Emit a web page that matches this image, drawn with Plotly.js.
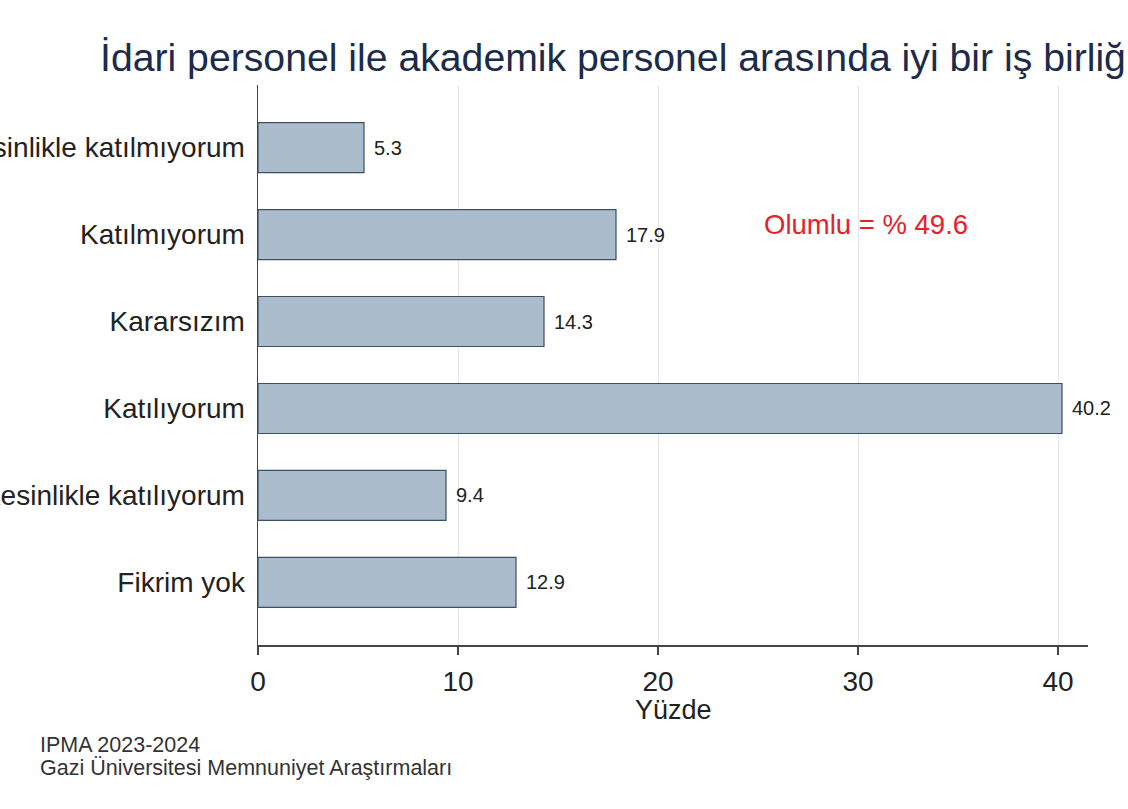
<!DOCTYPE html>
<html>
<head>
<meta charset="utf-8">
<script src="https://cdn.plot.ly/plotly-3.0.1.min.js"></script>
<style>html,body{margin:0;padding:0;background:#fff;}#chart{width:1128px;height:809px;}</style>
</head>
<body>
<div id="chart"></div>
<script>
const categories = ["Kesinlikle katılmıyorum", "Katılmıyorum", "Kararsızım", "Katılıyorum", "Kesinlikle katılıyorum", "Fikrim yok"];
const values = [5.3, 17.9, 14.3, 40.2, 9.4, 12.9];
const xTicks = [0, 10, 20, 30, 40];
const titleText = "İdari personel ile akademik personel arasında iyi bir iş birliği vardır";
const xTitle = "Yüzde";
const noteText = "Olumlu = % 49.6";
const sourceLines = ["IPMA 2023-2024", "Gazi Üniversitesi Memnuniyet Araştırmaları"];

const FONT = "Liberation Sans, Arial, sans-serif";

const trace = {
  type: "bar",
  orientation: "h",
  y: categories,
  x: values,
  width: 0.575,
  marker: {color: "#abbccd", line: {color: "#3d4f63", width: 1.2}},
  hoverinfo: "skip"
};

const valueAnnotations = values.map((v, i) => ({
  x: v, y: categories[i], xref: "x", yref: "y",
  text: v.toFixed(1), showarrow: false, xanchor: "left", xshift: 8,
  font: {family: FONT, size: 20, color: "#222"}
}));

const layout = {
  width: 1128, height: 809,
  paper_bgcolor: "#fff", plot_bgcolor: "#fff",
  margin: {l: 258, r: 40, t: 85, b: 164},
  showlegend: false,
  title: {
    text: titleText,
    font: {family: FONT, size: 39.2, color: "#1c2b4a"},
    xref: "container", yref: "container",
    x: 100 / 1128, xanchor: "left",
    y: 1 - 57 / 809, yanchor: "middle"
  },
  xaxis: {
    range: [0, 41.5],
    tickvals: xTicks,
    ticktext: xTicks.map(String),
    showgrid: true, gridcolor: "#e6e6e6", gridwidth: 1,
    zeroline: false,
    showline: true, linecolor: "#444", linewidth: 1.5,
    ticks: "outside", ticklen: 8, tickcolor: "#444", tickwidth: 1.5,
    ticklabelstandoff: 3,
    tickfont: {family: FONT, size: 28, color: "#222"},
    automargin: false, fixedrange: true
  },
  yaxis: {
    autorange: false,
    range: [5.72, -0.72],
    type: "category",
    showgrid: false, zeroline: false,
    showline: true, linecolor: "#444", linewidth: 1.5,
    ticks: "", ticklabelstandoff: 6,
    tickfont: {family: FONT, size: 28, color: "#222"},
    automargin: false, fixedrange: true
  },
  annotations: valueAnnotations.concat([
    {x: 0.5, y: -(710 - 645) / 560, xref: "paper", yref: "paper",
     text: xTitle, showarrow: false, xanchor: "center", yanchor: "middle",
     font: {family: FONT, size: 27, color: "#222"}},
    {x: 25.2, y: "Katılmıyorum", xref: "x", yref: "y", yshift: 10,
     text: noteText, showarrow: false, xanchor: "left",
     font: {family: FONT, size: 27.5, color: "#e8202a"}},
    {x: (40 - 258) / 830, y: -(745 - 645) / 560, xref: "paper", yref: "paper", xshift: -2,
     text: sourceLines[0], showarrow: false, xanchor: "left", yanchor: "middle",
     font: {family: FONT, size: 21.5, color: "#333"}},
    {x: (40 - 258) / 830, y: -(768 - 645) / 560, xref: "paper", yref: "paper", xshift: -2,
     text: sourceLines[1], showarrow: false, xanchor: "left", yanchor: "middle",
     font: {family: FONT, size: 21.5, color: "#333"}}
  ])
};

Plotly.newPlot("chart", [trace], layout, {displayModeBar: false, staticPlot: true});
</script>
</body>
</html>
